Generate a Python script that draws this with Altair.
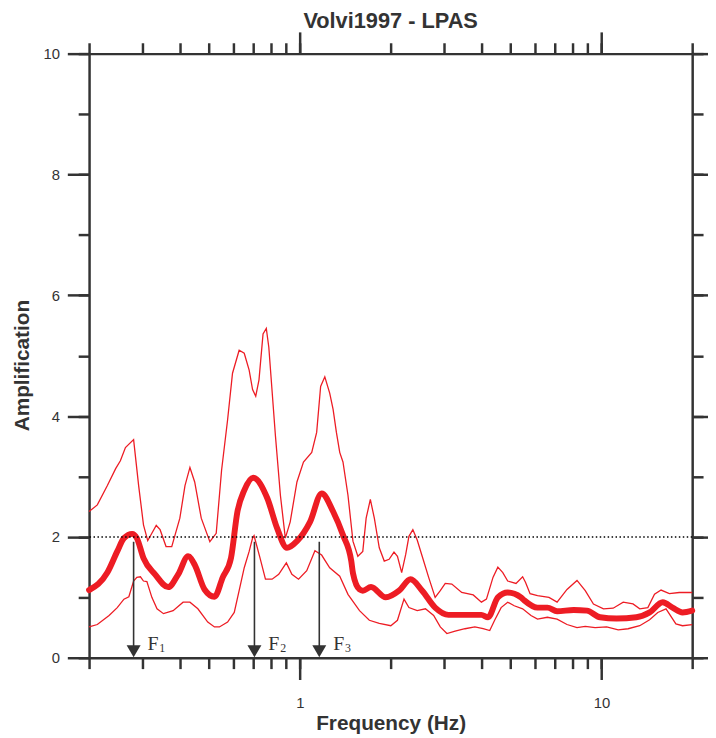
"""H/V spectral ratio at LPAS (Volvi 1997) with +/- one standard deviation."""

import altair as alt
import pandas as pd

# mean amplification curve
mean_freq = [0.2, 0.23, 0.248, 0.261, 0.278, 0.288, 0.303, 0.331, 0.366, 0.395,
             0.426, 0.448, 0.483, 0.521, 0.555, 0.591, 0.621, 0.654, 0.70, 0.78,
             0.841, 0.906, 0.978, 1.081, 1.181, 1.289, 1.39, 1.481, 1.50, 1.577,
             1.617, 1.722, 1.928, 2.133, 2.329, 2.545, 2.81, 3.111, 3.528, 4.0,
             4.209, 4.535, 4.89, 5.41, 5.55, 6.14, 6.62, 7.13, 8.09, 8.95,
             9.9, 11.22, 13.06, 14.45, 15.97, 17.22, 18.58, 20.0]
mean_amp = [1.12, 1.41, 1.76, 1.98, 2.05, 1.98, 1.65, 1.38, 1.17, 1.38,
            1.68, 1.54, 1.13, 1.01, 1.33, 1.65, 2.42, 2.77, 2.98, 2.64,
            2.14, 1.82, 1.93, 2.25, 2.72, 2.42, 2.03, 1.60, 1.40, 1.13,
            1.11, 1.17, 1.0, 1.11, 1.30, 1.11, 0.83, 0.71, 0.71, 0.71,
            0.67, 1.0, 1.08, 1.0, 0.95, 0.83, 0.83, 0.77, 0.79, 0.78,
            0.67, 0.65, 0.67, 0.75, 0.92, 0.83, 0.75, 0.78]

# mean + 1 std
upper_freq = [0.2, 0.213, 0.23, 0.245, 0.254, 0.264, 0.281, 0.292, 0.303, 0.313,
              0.323, 0.334, 0.344, 0.36, 0.376, 0.4, 0.416, 0.432, 0.448, 0.471,
              0.503, 0.528, 0.55, 0.576, 0.598, 0.629, 0.654, 0.679, 0.697, 0.714,
              0.732, 0.755, 0.774, 0.789, 0.83, 0.862, 0.895, 0.929, 0.978, 1.028,
              1.095, 1.137, 1.172, 1.21, 1.256, 1.289, 1.322, 1.356, 1.39, 1.444,
              1.50, 1.557, 1.617, 1.659, 1.713, 1.766, 1.834, 1.905, 1.977, 2.052,
              2.107, 2.176, 2.244, 2.30, 2.37, 2.45, 2.545, 2.674, 2.81, 2.922,
              3.035, 3.191, 3.441, 3.758, 4.001, 4.157, 4.37, 4.535, 4.71, 4.89,
              5.21, 5.48, 5.6, 5.8, 6.14, 6.70, 7.13, 7.69, 8.30, 8.84,
              9.41, 10.16, 10.94, 11.81, 12.73, 13.40, 14.26, 15.0, 15.77, 16.80,
              18.12, 20.0]
upper_amp = [2.42, 2.53, 2.85, 3.13, 3.26, 3.48, 3.61, 2.85, 2.2, 1.94,
             2.06, 2.19, 2.12, 1.84, 1.84, 2.31, 2.85, 3.15, 2.91, 2.31,
             1.92, 2.06, 3.1, 3.94, 4.71, 5.09, 5.04, 4.76, 4.44, 4.33,
             4.60, 5.36, 5.45, 5.14, 3.67, 2.69, 1.98, 2.25, 2.91, 3.24,
             3.40, 3.73, 4.49, 4.65, 4.38, 4.11, 3.73, 3.40, 3.24, 2.69,
             1.93, 1.68, 1.76, 2.31, 2.62, 2.31, 1.82, 1.60, 1.63, 1.75,
             1.68, 1.41, 1.71, 2.01, 2.12, 1.95, 1.68, 1.33, 1.0, 1.11,
             1.23, 1.22, 1.08, 1.04, 0.92, 0.97, 1.33, 1.50, 1.41, 1.27,
             1.23, 1.34, 1.25, 1.06, 1.03, 1.0, 0.92, 1.13, 1.28, 1.11,
             0.89, 0.81, 0.82, 0.92, 0.89, 0.81, 0.83, 1.05, 1.12, 1.06,
             1.08, 1.08]

# mean - 1 std
lower_freq = [0.2, 0.213, 0.233, 0.248, 0.261, 0.271, 0.281, 0.288, 0.296, 0.303,
              0.311, 0.323, 0.336, 0.353, 0.38, 0.41, 0.432, 0.459, 0.495, 0.521,
              0.541, 0.576, 0.606, 0.629, 0.654, 0.679, 0.697, 0.705, 0.738, 0.769,
              0.809, 0.851, 0.902, 0.941, 0.99, 1.054, 1.122, 1.181, 1.256, 1.356,
              1.444, 1.577, 1.70, 1.834, 2.003, 2.107, 2.215, 2.30, 2.45, 2.609,
              2.778, 2.922, 3.073, 3.273, 3.528, 3.805, 4.053, 4.263, 4.425, 4.65,
              4.89, 5.14, 5.48, 5.84, 6.14, 6.62, 7.13, 7.69, 8.30, 8.84,
              9.53, 10.41, 11.37, 12.26, 13.40, 14.45, 15.38, 16.38, 17.66, 18.58,
              20.0]
lower_amp = [0.51, 0.55, 0.70, 0.83, 0.97, 1.01, 1.27, 1.33, 1.34, 1.27,
             1.26, 1.0, 0.81, 0.73, 0.78, 0.92, 0.92, 0.81, 0.59, 0.51,
             0.51, 0.59, 0.75, 1.11, 1.49, 1.76, 1.98, 2.02, 1.65, 1.30,
             1.30, 1.38, 1.57, 1.38, 1.30, 1.44, 1.77, 1.70, 1.49, 1.35,
             1.05, 0.78, 0.62, 0.57, 0.53, 0.62, 0.97, 0.83, 0.78, 0.81,
             0.70, 0.51, 0.40, 0.44, 0.48, 0.51, 0.48, 0.45, 0.62, 0.83,
             0.92, 0.86, 0.81, 0.70, 0.64, 0.67, 0.64, 0.55, 0.50, 0.52,
             0.50, 0.51, 0.46, 0.48, 0.53, 0.63, 0.75, 0.81, 0.56, 0.53,
             0.55]

# resonance frequencies marked with arrows
peak_freq = [0.281, 0.707, 1.16]
peak_name = ['F', 'F', 'F']
peak_index = ['1', '2', '3']

x_minor = [0.2, 0.3, 0.4, 0.5, 0.6, 0.7, 0.8, 0.9, 1, 2, 3, 4, 5, 6, 7, 8, 9, 10, 20]
x_major = [1, 10]
y_minor = [0, 1, 2, 3, 4, 5, 6, 7, 8, 9, 10]
y_major = [0, 2, 4, 6, 8, 10]

RED = '#ed1c24'
INK = '#333333'

mean_df = pd.DataFrame({'freq': mean_freq, 'amp': mean_amp})
upper_df = pd.DataFrame({'freq': upper_freq, 'amp': upper_amp})
lower_df = pd.DataFrame({'freq': lower_freq, 'amp': lower_amp})
peaks_df = pd.DataFrame({'freq': peak_freq, 'name': peak_name, 'idx': peak_index})

x_scale = alt.Scale(type='log', domain=[0.2, 20], nice=False)
y_scale = alt.Scale(domain=[0, 10], nice=False)


def frame_axis(orient, values, size, domain):
    """Unlabelled frame axis: long ticks for majors, short for minors."""
    return alt.Axis(orient=orient, values=values, tickSize=size, domain=domain,
                    labels=False, title=None, grid=False, domainColor=INK,
                    domainWidth=2.5, tickColor=INK, tickWidth=2.5)


x_bottom = alt.Axis(orient='bottom', values=x_major, format='~g', tickSize=22,
                    domain=False, grid=False, tickColor=INK, tickWidth=2.5,
                    labelFontSize=15, labelColor=INK, labelPadding=16,
                    labelOverlap=False, labelFlush=False,
                    title='Frequency (Hz)', titleFontSize=21, titleFontWeight='bold',
                    titleColor=INK, titlePadding=3)
y_left = alt.Axis(orient='left', values=y_major, tickSize=22, domain=False,
                  grid=False, tickColor=INK, tickWidth=2.5,
                  labelFontSize=15, labelColor=INK, labelPadding=8,
                  labelOverlap=False,
                  title='Amplification', titleFontSize=21, titleFontWeight='bold',
                  titleColor=INK, titlePadding=11, titleY=315)

mean_line = (
    alt.Chart(mean_df)
    .mark_line(color=RED, strokeWidth=6, strokeJoin='round', strokeCap='round',
               interpolate='monotone')
    .encode(
        x=alt.X('freq:Q', scale=x_scale, axis=x_bottom),
        y=alt.Y('amp:Q', scale=y_scale, axis=y_left),
        order='freq:Q',
    )
)

upper_line = (
    alt.Chart(upper_df)
    .mark_line(color=RED, strokeWidth=1.3)
    .encode(
        x=alt.X('freq:Q', scale=x_scale, axis=frame_axis('top', x_minor, 11, True)),
        y=alt.Y('amp:Q', scale=y_scale, axis=frame_axis('right', y_minor, 11, True)),
        order='freq:Q',
    )
)

lower_line = (
    alt.Chart(lower_df)
    .mark_line(color=RED, strokeWidth=1.3)
    .encode(
        x=alt.X('freq:Q', scale=x_scale, axis=frame_axis('top', x_major, 22, False)),
        y=alt.Y('amp:Q', scale=y_scale, axis=frame_axis('right', y_major, 22, False)),
        order='freq:Q',
    )
)

threshold = (
    alt.Chart(pd.DataFrame({'level': [2]}))
    .mark_rule(color='black', strokeWidth=1.5, strokeDash=[1.5, 2.5])
    .encode(y=alt.Y('level:Q', scale=y_scale,
                    axis=frame_axis('left', y_minor, 11, True)))
)

arrow_base = alt.Chart(peaks_df)

arrow_shaft = arrow_base.mark_rule(color=INK, strokeWidth=1.6).encode(
    x=alt.X('freq:Q', scale=x_scale, axis=frame_axis('bottom', x_minor, 11, True)),
    y=alt.Y(datum=1.92, scale=y_scale, axis=None),
    y2=alt.Y2(datum=0.15),
)
arrow_head = arrow_base.mark_point(
    shape='triangle-down', filled=True, size=200, color=INK, opacity=1, yOffset=-6.5
).encode(
    x=alt.X('freq:Q', scale=x_scale, axis=None),
    y=alt.Y(datum=0, scale=y_scale, axis=None),
)

label_f = arrow_base.mark_text(
    align='left', baseline='alphabetic', dx=14, fontSize=20,
    font='Liberation Serif', color=INK
).encode(
    x=alt.X('freq:Q', scale=x_scale, axis=None),
    y=alt.Y(datum=0.13, scale=y_scale, axis=None),
    text='name:N',
)

label_idx = arrow_base.mark_text(
    align='left', baseline='alphabetic', dx=26, dy=2, fontSize=12,
    font='Liberation Serif', color=INK
).encode(
    x=alt.X('freq:Q', scale=x_scale, axis=None),
    y=alt.Y(datum=0.13, scale=y_scale, axis=None),
    text='idx:N',
)

chart = (
    alt.layer(mean_line, upper_line, lower_line, threshold,
              arrow_shaft, arrow_head, label_f, label_idx)
    .resolve_axis(x='independent', y='independent')
    .properties(
        width=610, height=611,
        title=alt.TitleParams('Volvi1997 - LPAS', fontSize=22, fontWeight='bold',
                              color=INK, anchor='middle', offset=-2),
        autosize=alt.AutoSizeParams(type='none'),
        padding={'left': 82, 'top': 42, 'right': 16, 'bottom': 76},
    )
    .configure(font='Liberation Sans')
    .configure_view(stroke=None)
)

chart.save('out.html', embed_options={'renderer': 'svg', 'actions': False})
